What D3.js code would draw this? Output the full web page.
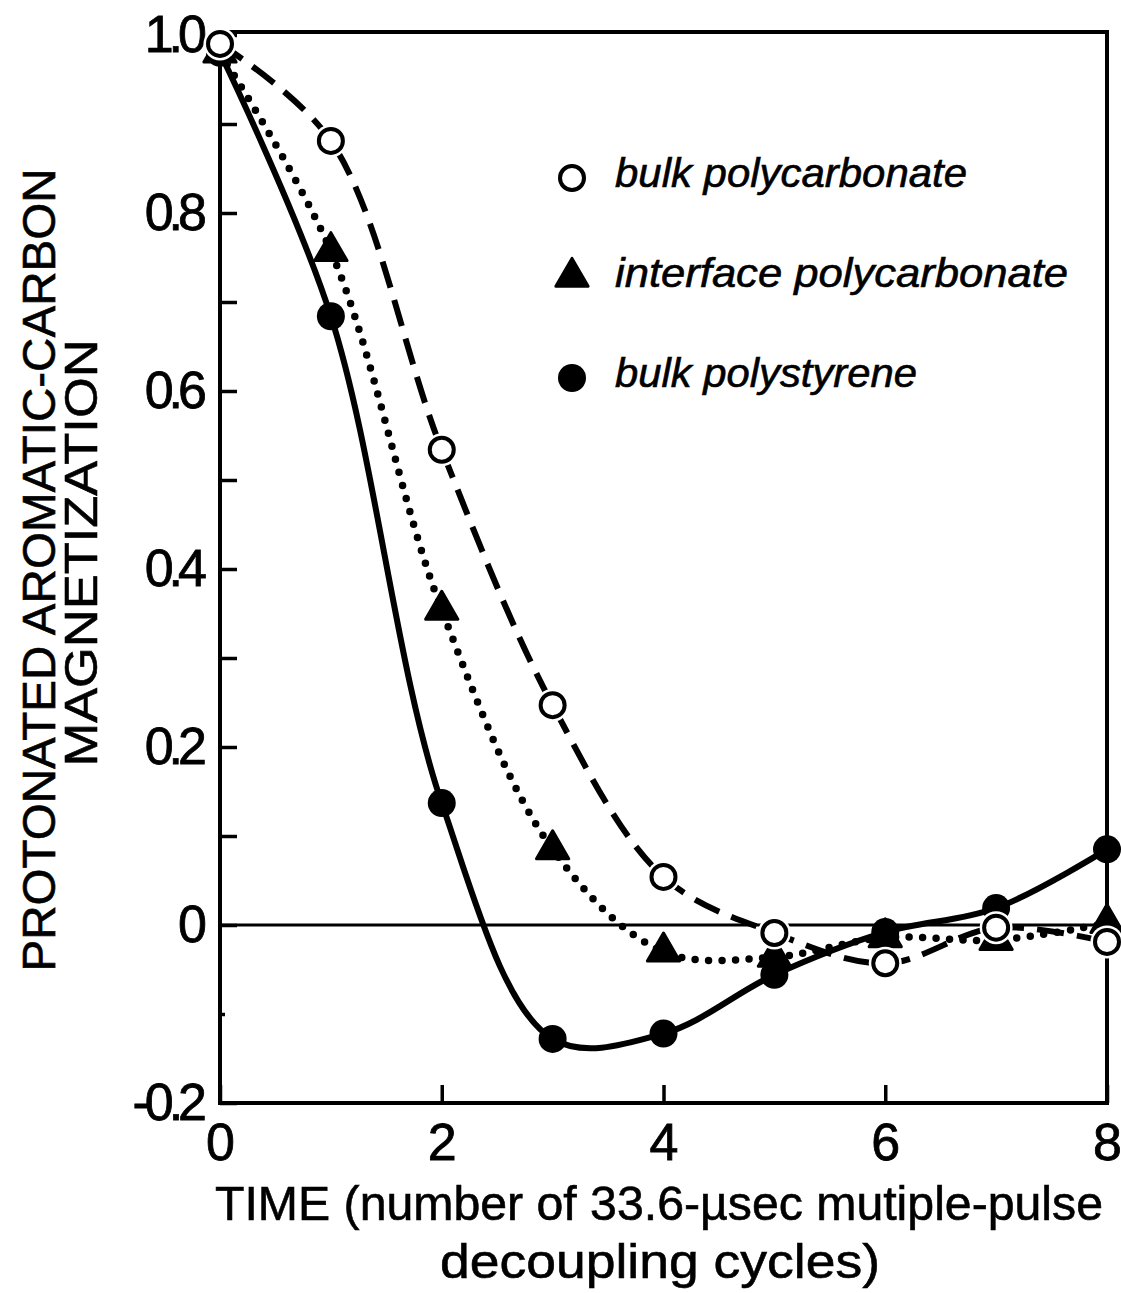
<!DOCTYPE html>
<html>
<head>
<meta charset="utf-8">
<script src="https://cdn.jsdelivr.net/npm/d3@7"></script>
<style>
  body { margin: 0; background: #fff; }
  #chart { width: 1121px; height: 1293px; }
</style>
</head>
<body>
<div id="chart"></div>
<script>
// values
const times = [0, 1, 2, 3, 4, 5, 6, 7, 8];
const bulkPolycarbonate = [0.99, 0.881, 0.534, 0.247, 0.054, -0.009, -0.043, -0.003, -0.019];
const interfacePolycarbonate = [0.98, 0.757, 0.354, 0.085, -0.030, -0.036, -0.014, -0.017, 0.002];
const bulkPolystyrene = [0.98, 0.684, 0.137, -0.128, -0.122, -0.056, -0.008, 0.019, 0.085];
const seriesNames = ["bulk polycarbonate", "interface polycarbonate", "bulk polystyrene"];

const yMajorTicks = [-0.2, 0, 0.2, 0.4, 0.6, 0.8, 1.0];
const yMajorLabels = ["-0.2", "0", "0.2", "0.4", "0.6", "0.8", "1.0"];
const yMinorTicks = [-0.1, 0.1, 0.3, 0.5, 0.7, 0.9];
const xTickValues = [0, 2, 4, 6, 8];
const xTickLabels = ["0", "2", "4", "6", "8"];

const yTitle = ["PROTONATED AROMATIC-CARBON", "MAGNETIZATION"];
const xTitle = ["TIME (number of 33.6-\u00b5sec mutiple-pulse", "decoupling cycles)"];

function drawChart() {
    let div = document.getElementById("chart");
    let divWidth = 1121;
    let divHeight = 1293;
    let font = "'Liberation Sans', Arial, sans-serif";

    let margin = { top: 35, left: 220, right: 14, bottom: 190 };
    let width = divWidth - margin.left - margin.right;
    let height = divHeight - margin.top - margin.bottom;

    let svg = d3.select(div).append("svg")
        .attr("width", divWidth)
        .attr("height", divHeight);

    svg.append("rect")
        .attr("width", divWidth).attr("height", divHeight)
        .attr("fill", "#fff");

    let g = svg.append("g").attr("transform", `translate(${margin.left},${margin.top})`);

    let x = d3.scaleLinear().domain([0, 8]).range([0, width]);
    let y = d3.scaleLinear().domain([-0.2, 1.0]).range([height, 0]);

    // zero line
    g.append("line")
        .attr("x1", 0).attr("x2", width)
        .attr("y1", y(0)).attr("y2", y(0))
        .attr("stroke", "#000").attr("stroke-width", 3);

    // left axis, ticks pointing inwards
    let yAxis = d3.axisLeft(y)
        .tickValues(yMajorTicks)
        .tickFormat((d, i) => yMajorLabels[i])
        .tickSizeInner(-17).tickSizeOuter(0)
        .tickPadding(18);
    let yAxisG = g.append("g").call(yAxis);

    let yMinor = d3.axisLeft(y)
        .tickValues(yMinorTicks)
        .tickFormat("")
        .tickSizeInner(-17).tickSizeOuter(0);
    let yMinorG = g.append("g").call(yMinor);
    yMinorG.selectAll(".tick line").filter(d => d < 0).attr("x2", 5);

    let xAxis = d3.axisBottom(x)
        .tickValues(xTickValues)
        .tickFormat((d, i) => xTickLabels[i])
        .tickSizeInner(-18).tickSizeOuter(0)
        .tickPadding(20);
    let xAxisG = g.append("g")
        .attr("transform", `translate(0,${height})`)
        .call(xAxis);

    [yAxisG, yMinorG, xAxisG].forEach(a => {
        a.select(".domain").remove();
        a.selectAll(".tick line").attr("stroke", "#000").attr("stroke-width", 3.5);
        a.selectAll("text")
            .attr("font-family", font)
            .attr("font-size", 52)
            .attr("fill", "#000")
            .attr("stroke", "#000")
            .attr("stroke-width", 0.8);
    });
    yAxisG.selectAll("text").attr("letter-spacing", -5);

    // frame
    g.append("rect")
        .attr("x", 0).attr("y", -3)
        .attr("width", width).attr("height", height + 3)
        .attr("fill", "none")
        .attr("stroke", "#000").attr("stroke-width", 4);

    let series = [
        { name: seriesNames[0], values: bulkPolycarbonate, dash: "27 13", width: 6, cap: "butt", marker: "open" },
        { name: seriesNames[1], values: interfacePolycarbonate, dash: "0 13.5", width: 7.5, cap: "round", marker: "triangle" },
        { name: seriesNames[2], values: bulkPolystyrene, dash: null, width: 6, cap: "round", marker: "filled" }
    ];

    let line = d3.line()
        .x((d, i) => x(times[i]))
        .y(d => y(d))
        .curve(d3.curveCatmullRom.alpha(0.5));

    g.selectAll(".curve").data(series).enter()
        .append("path")
        .attr("class", "curve")
        .attr("d", d => line(d.values))
        .attr("fill", "none")
        .attr("stroke", "#000")
        .attr("stroke-width", d => d.width)
        .attr("stroke-linecap", d => d.cap)
        .attr("stroke-dasharray", d => d.dash);

    let triangle = d3.symbol().type(d3.symbolTriangle).size(450);

    function drawMarker(sel, type) {
        if (type === "triangle") {
            sel.append("path")
                .attr("d", triangle())
                .attr("fill", "#000")
                .attr("stroke", "#000")
                .attr("stroke-width", 3)
                .attr("stroke-linejoin", "round");
        } else if (type === "open") {
            sel.append("circle").attr("r", 16.5).attr("fill", "#fff");
            sel.append("circle").attr("r", 12)
                .attr("fill", "#fff")
                .attr("stroke", "#000").attr("stroke-width", 4);
        } else {
            sel.append("circle").attr("r", 14).attr("fill", "#000");
        }
    }

    // draw polystyrene first, open circles on top
    [series[2], series[1], series[0]].forEach(s => {
        s.values.forEach((v, i) => {
            let m = g.append("g").attr("transform", `translate(${x(times[i])},${y(v)})`);
            drawMarker(m, s.marker);
        });
    });

    // legend
    let legend = svg.append("g").attr("transform", "translate(572,178)");
    let legendLengths = [352, 453, 302];
    series.forEach((s, i) => {
        let row = legend.append("g").attr("transform", `translate(0,${i * 100})`);
        drawMarker(row.append("g").attr("transform", s.marker === "triangle" ? "translate(0,-1)" : null), s.marker);
        row.append("text")
            .attr("x", 43)
            .attr("y", 9)
            .attr("font-family", font)
            .attr("font-style", "italic")
            .attr("font-size", 40)
            .attr("stroke", "#000")
            .attr("stroke-width", 0.6)
            .attr("textLength", legendLengths[i])
            .attr("lengthAdjust", "spacingAndGlyphs")
            .text(s.name);
    });

    // y title (two rotated lines)
    svg.append("text")
        .attr("transform", "translate(55,570) rotate(-90)")
        .attr("text-anchor", "middle")
        .attr("font-family", font)
        .attr("font-size", 46)
        .attr("stroke", "#000")
        .attr("stroke-width", 0.6)
        .attr("textLength", 803)
        .attr("lengthAdjust", "spacingAndGlyphs")
        .text(yTitle[0]);
    svg.append("text")
        .attr("transform", "translate(97,553) rotate(-90)")
        .attr("text-anchor", "middle")
        .attr("font-family", font)
        .attr("font-size", 46)
        .attr("stroke", "#000")
        .attr("stroke-width", 0.6)
        .attr("textLength", 427)
        .attr("lengthAdjust", "spacingAndGlyphs")
        .text(yTitle[1]);

    // x title
    svg.append("text")
        .attr("x", 659).attr("y", 1220)
        .attr("text-anchor", "middle")
        .attr("font-family", font)
        .attr("font-size", 48)
        .attr("stroke", "#000")
        .attr("stroke-width", 0.6)
        .attr("textLength", 888)
        .attr("lengthAdjust", "spacingAndGlyphs")
        .text(xTitle[0]);
    svg.append("text")
        .attr("x", 660).attr("y", 1278)
        .attr("text-anchor", "middle")
        .attr("font-family", font)
        .attr("font-size", 48)
        .attr("stroke", "#000")
        .attr("stroke-width", 0.6)
        .attr("textLength", 440)
        .attr("lengthAdjust", "spacingAndGlyphs")
        .text(xTitle[1]);
}

drawChart();
</script>
</body>
</html>
